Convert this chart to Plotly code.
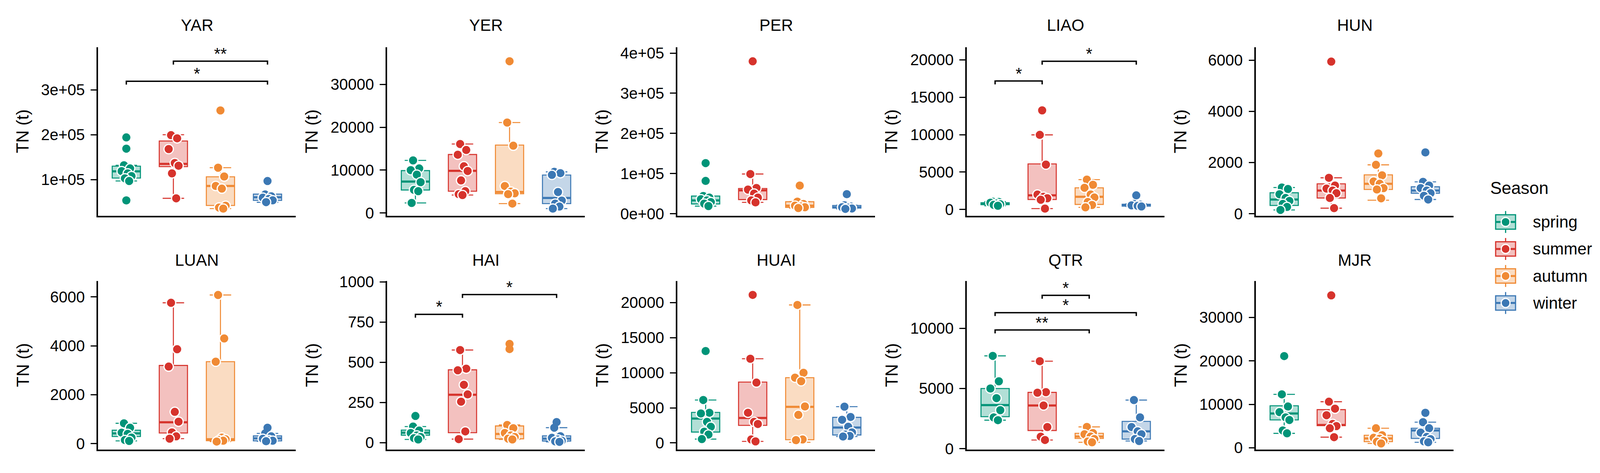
#!/usr/bin/env python
# -*- coding: utf-8 -*-

"""
Seasonal TN (t) boxplots for ten river basins, 2 x 5 panel layout.
Boxes, whiskers, points and significance brackets are read off the reference figure.
"""

import plotly.graph_objects as go

# reference canvas, positions below are given in its pixels and turned into paper fractions
W, H = 4339, 1212
FONT = "Liberation Sans, Arial, Helvetica, sans-serif"

SEASONS = ["spring", "summer", "autumn", "winter"]
LINE_COLORS = ["#009478", "#D6332C", "#F08A34", "#3C78B4"]
FILL_COLORS = ["rgba(0,148,120,0.3)", "rgba(214,51,44,0.3)",
               "rgba(240,138,52,0.3)", "rgba(60,120,180,0.3)"]

PANELS = ["YAR", "YER", "PER", "LIAO", "HUN", "LUAN", "HAI", "HUAI", "QTR", "MJR"]

# box stats per season: (lower whisker, q1, median, q3, upper whisker)
YAR_BOX = [(97e3, 103.6e3, 118.5e3, 130e3, 132e3), (58.5e3, 129e3, 135e3, 186e3, 200e3),
           (35.6e3, 42.6e3, 86e3, 106.4e3, 126.6e3), (49.6e3, 53.8e3, 60.8e3, 67.8e3, 68e3)]
YAR_PTS = [[132e3, 125e3, 119e3, 114e3, 108e3, 103e3, 97e3],
           [199e3, 192e3, 168e3, 137e3, 131e3, 114e3, 58.5e3],
           [126.6e3, 107e3, 86e3, 80e3, 42e3, 38e3, 35.6e3],
           [67e3, 63e3, 60e3, 57e3, 54e3, 50e3]]
YAR_OUT = [[194e3, 169e3, 53.8e3], [], [254e3], [97e3]]

YER_BOX = [(2350, 5370, 7340, 9900, 12270), (4200, 5080, 9830, 13650, 16100),
           (2200, 4490, 4900, 15850, 21100), (1030, 2200, 3520, 8860, 9600)]
YER_PTS = [[12270, 10400, 10000, 8950, 7200, 5400, 5100, 2350],
           [16100, 14700, 13600, 10900, 9800, 7600, 5100, 4400, 4200],
           [21100, 15700, 6300, 5000, 4600, 4400, 2200],
           [9600, 9300, 8900, 4900, 2900, 2200, 1500, 1030]]
YER_OUT = [[], [], [35400], []]

PER_BOX = [(18.8e3, 24.2e3, 33e3, 43.9e3, 44e3), (28.2e3, 35.1e3, 58e3, 62.7e3, 98.8e3),
           (14e3, 15.7e3, 20e3, 29.8e3, 30e3), (12e3, 14e3, 15.7e3, 20.4e3, 21e3)]
PER_PTS = [[44e3, 40e3, 36e3, 33e3, 29e3, 25e3, 19e3],
           [98.8e3, 64e3, 60e3, 50e3, 40e3, 33e3, 28.2e3],
           [30e3, 24e3, 20e3, 18e3, 16e3, 14e3],
           [21e3, 18e3, 16e3, 15e3, 13e3, 12e3]]
PER_OUT = [[126e3, 81.6e3], [379.6e3], [70e3], [48.6e3]]

LIAO_BOX = [(500, 650, 800, 900, 1050), (118, 1330, 1890, 6090, 9970),
            (286, 673, 1700, 2900, 3990), (400, 450, 550, 700, 750)]
LIAO_PTS = [[1050, 1000, 900, 800, 700, 620, 500],
            [9970, 6000, 2000, 1700, 1500, 1300, 118],
            [3990, 3300, 2900, 2000, 1600, 1000, 600, 286],
            [750, 650, 550, 480, 400]]
LIAO_OUT = [[], [13250], [], [1890]]

HUN_BOX = [(146, 321, 555, 818, 1022), (216, 613, 905, 1168, 1402),
           (526, 947, 1168, 1519, 1910), (555, 800, 905, 1052, 1244)]
HUN_PTS = [[1022, 964, 760, 613, 497, 380, 263, 146],
           [1402, 1100, 980, 905, 800, 613, 216],
           [1910, 1500, 1260, 1170, 1000, 947, 600],
           [1244, 1100, 1000, 905, 800, 700, 555]]
HUN_OUT = [[], [5948], [2355], [2396]]

LUAN_BOX = [(113, 293, 422, 550, 833), (205, 437, 874, 3198, 5758),
            (87, 123, 180, 3352, 6077), (100, 113, 216, 319, 420)]
LUAN_PTS = [[833, 650, 450, 400, 250, 150, 113],
            [5758, 3860, 3150, 1300, 900, 460, 300, 205],
            [6077, 4300, 3352, 250, 180, 150, 120, 87],
            [420, 300, 200, 150, 120, 100]]
LUAN_OUT = [[], [], [], [653]]

HAI_BOX = [(20, 46, 62, 78, 100), (22, 62, 298, 453, 576),
           (20, 24, 54, 104, 110), (5, 10, 25, 42, 93)]
HAI_PTS = [[100, 75, 60, 45, 35, 28, 20],
           [576, 460, 450, 360, 300, 255, 70, 22],
           [110, 90, 60, 45, 35, 25, 20],
           [93, 40, 30, 20, 12, 8, 5]]
HAI_OUT = [[166], [], [614, 582], [128]]

HUAI_BOX = [(548, 1550, 3470, 4350, 6120), (219, 2500, 3560, 8680, 12000),
            (91, 457, 5150, 9300, 19670), (913, 1130, 2190, 3650, 5170)]
HUAI_PTS = [[6120, 4300, 4200, 3000, 2300, 1600, 1200, 548],
            [12000, 8600, 4300, 3000, 2700, 500, 219],
            [19670, 10000, 9300, 8800, 5200, 4000, 500, 400],
            [5170, 3700, 3300, 2300, 1500, 1200, 1000, 913]]
HUAI_OUT = [[13100], [21100], [], []]

QTR_BOX = [(2370, 2660, 3620, 5000, 7710), (723, 1510, 3590, 4680, 7270),
           (532, 851, 1010, 1280, 1810), (638, 798, 1440, 2270, 4040)]
QTR_PTS = [[7710, 5600, 5000, 4200, 3200, 2600, 2370],
           [7270, 4700, 4650, 3590, 1800, 1000, 723],
           [1810, 1300, 1200, 1010, 800, 600, 532],
           [4040, 2600, 1800, 1440, 1200, 800, 638]]
QTR_OUT = [[], [], [], []]

MJR_BOX = [(3330, 6420, 7900, 9670, 12300), (2450, 5100, 5250, 8780, 10600),
           (1000, 1410, 2150, 2890, 4500), (1270, 2150, 4000, 4500, 5900)]
MJR_PTS = [[12300, 9500, 8200, 7000, 6400, 4000, 3330],
           [10600, 9000, 7500, 5500, 5000, 4500, 2450],
           [4500, 2900, 2300, 2100, 1600, 1400, 1000],
           [5900, 4500, 3500, 2500, 2000, 1500, 1270]]
MJR_OUT = [[21100], [35070], [], [8050]]

BOXES = [YAR_BOX, YER_BOX, PER_BOX, LIAO_BOX, HUN_BOX, LUAN_BOX, HAI_BOX, HUAI_BOX, QTR_BOX, MJR_BOX]
POINTS = [YAR_PTS, YER_PTS, PER_PTS, LIAO_PTS, HUN_PTS, LUAN_PTS, HAI_PTS, HUAI_PTS, QTR_PTS, MJR_PTS]
OUTLIERS = [YAR_OUT, YER_OUT, PER_OUT, LIAO_OUT, HUN_OUT, LUAN_OUT, HAI_OUT, HUAI_OUT, QTR_OUT, MJR_OUT]

# y-axis ranges and ticks
Y_RANGES = [[19.3e3, 395e3], [-675, 38.7e3], [-5.6e3, 415e3], [-859, 21.7e3], [-88, 6515],
            [-247, 6653], [-44, 1006], [-968, 23.1e3], [-85, 13.94e3], [-442, 38.4e3]]
Y_TICKS = [[1e5, 2e5, 3e5], [0, 10000, 20000, 30000], [0, 1e5, 2e5, 3e5, 4e5],
           [0, 5000, 10000, 15000, 20000], [0, 2000, 4000, 6000], [0, 2000, 4000, 6000],
           [0, 250, 500, 750, 1000], [0, 5000, 10000, 15000, 20000], [0, 5000, 10000],
           [0, 10000, 20000, 30000]]
Y_TICKTEXT = [["1e+05", "2e+05", "3e+05"], ["0", "10000", "20000", "30000"],
              ["0e+00", "1e+05", "2e+05", "3e+05", "4e+05"],
              ["0", "5000", "10000", "15000", "20000"], ["0", "2000", "4000", "6000"],
              ["0", "2000", "4000", "6000"], ["0", "250", "500", "750", "1000"],
              ["0", "5000", "10000", "15000", "20000"], ["0", "5000", "10000"],
              ["0", "10000", "20000", "30000"]]

# significance brackets: (panel, group a, group b, label, bracket height)
BRACKETS = [
    (0, 1, 4, "*", 319e3), (0, 2, 4, "**", 363.6e3),
    (3, 1, 2, "*", 17170), (3, 2, 4, "*", 19800),
    (6, 1, 2, "*", 798), (6, 2, 4, "*", 921),
    (8, 2, 3, "*", 12740), (8, 1, 4, "*", 11300), (8, 1, 3, "**", 9860),
]

# layout in reference pixels
COL_X0 = [266, 1050, 1837, 2622, 3406]
PANEL_W = 536
ROW_TOP = [104, 723]
PANEL_H = 447
TITLE_Y = [46, 668]
JITTER = [-0.05, 0.08, -0.1, 0.03, 0.11, -0.03, 0.06, -0.08, 0.0]


def px(x):
    return x / W


def py(y):
    return 1 - y / H


def build_figure():
    fig = go.Figure()
    annotations = []
    shapes = []

    for i, name in enumerate(PANELS):
        n = i + 1
        row, col = divmod(i, 5)
        xa, ya = f"x{n}", f"y{n}"
        x0 = COL_X0[col]
        top = ROW_TOP[row]

        for k in range(4):
            lo, q1, med, q3, hi = BOXES[i][k]
            pos = k + 1
            c = LINE_COLORS[k]
            fig.add_trace(go.Box(
                x=[pos], q1=[q1], median=[med], q3=[q3], lowerfence=[lo], upperfence=[hi],
                width=0.6, whiskerwidth=0.76, fillcolor=FILL_COLORS[k],
                line=dict(color=c, width=2.6), boxpoints=False,
                xaxis=xa, yaxis=ya, showlegend=False, hoverinfo="skip",
            ))
            # thicker median line
            fig.add_trace(go.Scatter(
                x=[pos - 0.3, pos + 0.3], y=[med, med], mode="lines",
                line=dict(color=c, width=5.5), xaxis=xa, yaxis=ya,
                showlegend=False, hoverinfo="skip",
            ))
            pts = POINTS[i][k]
            fig.add_trace(go.Scatter(
                x=[pos + JITTER[j % len(JITTER)] for j in range(len(pts))], y=pts,
                mode="markers",
                marker=dict(size=24, color=c, line=dict(color="white", width=3)),
                xaxis=xa, yaxis=ya, showlegend=False, hoverinfo="skip",
            ))
            outs = OUTLIERS[i][k]
            if outs:
                fig.add_trace(go.Scatter(
                    x=[pos] * len(outs), y=outs, mode="markers",
                    marker=dict(size=21, color=c, line=dict(width=0)),
                    xaxis=xa, yaxis=ya, showlegend=False, hoverinfo="skip",
                ))

        span = Y_RANGES[i][1] - Y_RANGES[i][0]
        for (p, a, b, label, yb) in BRACKETS:
            if p != i:
                continue
            tip = 0.02 * span
            fig.add_trace(go.Scatter(
                x=[a, a, b, b], y=[yb - tip, yb, yb, yb - tip], mode="lines",
                line=dict(color="black", width=3.5), xaxis=xa, yaxis=ya,
                showlegend=False, hoverinfo="skip",
            ))
            annotations.append(dict(
                x=(a + b) / 2, y=yb, xref=xa, yref=ya, text=label, showarrow=False,
                yanchor="bottom", yshift=-6, font=dict(size=42, color="black", family=FONT),
            ))

        fig.update_layout(**{
            f"xaxis{n}": dict(
                domain=[px(x0), px(x0 + PANEL_W)], anchor=ya, range=[0.4, 4.6],
                showline=True, linecolor="black", linewidth=3.5, showticklabels=False,
                ticks="", showgrid=False, zeroline=False, fixedrange=True,
            ),
            f"yaxis{n}": dict(
                domain=[py(top + PANEL_H), py(top)], anchor=xa, range=Y_RANGES[i],
                tickmode="array", tickvals=Y_TICKS[i], ticktext=Y_TICKTEXT[i],
                ticks="outside", ticklen=15, tickwidth=3, tickcolor="black",
                showline=True, linecolor="black", linewidth=3.5, showgrid=False,
                zeroline=False, fixedrange=True, ticklabelstandoff=7,
                tickfont=dict(size=40, color="black", family=FONT),
            ),
        })

        # panel title
        annotations.append(dict(
            x=px(x0 + PANEL_W / 2), y=py(TITLE_Y[row]), xref="paper", yref="paper",
            text=name, showarrow=False, xanchor="center", yanchor="middle",
            font=dict(size=42, color="black", family=FONT),
        ))
        # y axis title
        annotations.append(dict(
            x=px(x0 - 205), y=py(top + PANEL_H / 2), xref="paper", yref="paper",
            text="TN (t)", textangle=-90, showarrow=False, xanchor="center", yanchor="middle",
            font=dict(size=44, color="black", family=FONT),
        ))

    # legend drawn by hand so the keys match the box + point glyphs
    annotations.append(dict(
        x=px(4039), y=py(477), xref="paper", yref="paper", text="Season", showarrow=False,
        xanchor="left", yanchor="middle", font=dict(size=44, color="black", family=FONT),
    ))
    key_x = 4083
    for k, season in enumerate(SEASONS):
        yc = 567 + k * 71.5
        c = LINE_COLORS[k]
        shapes.append(dict(type="line", xref="paper", yref="paper", x0=px(key_x), x1=px(key_x),
                           y0=py(yc - 29), y1=py(yc + 29), line=dict(color=c, width=3)))
        shapes.append(dict(type="rect", xref="paper", yref="paper",
                           x0=px(key_x - 27), x1=px(key_x + 27), y0=py(yc + 19), y1=py(yc - 19),
                           fillcolor="white", line=dict(width=0)))
        shapes.append(dict(type="rect", xref="paper", yref="paper",
                           x0=px(key_x - 27), x1=px(key_x + 27), y0=py(yc + 19), y1=py(yc - 19),
                           fillcolor=FILL_COLORS[k], line=dict(color=c, width=3)))
        shapes.append(dict(type="line", xref="paper", yref="paper",
                           x0=px(key_x - 27), x1=px(key_x + 27), y0=py(yc), y1=py(yc),
                           line=dict(color=c, width=5)))
        shapes.append(dict(type="circle", xref="paper", yref="paper",
                           x0=px(key_x - 12), x1=px(key_x + 12), y0=py(yc + 12), y1=py(yc - 12),
                           fillcolor=c, line=dict(color="white", width=3)))
        annotations.append(dict(
            x=px(4155), y=py(yc), xref="paper", yref="paper", text=season, showarrow=False,
            xanchor="left", yanchor="middle", font=dict(size=42, color="black", family=FONT),
        ))

    fig.update_layout(
        autosize=True,
        margin=dict(l=0, r=0, t=0, b=0, pad=0),
        paper_bgcolor="white", plot_bgcolor="white",
        font=dict(family=FONT, color="black"),
        showlegend=False,
        annotations=annotations,
        shapes=shapes,
    )
    return fig


# make the graph div fill the browser window exactly, without the default body margin
FILL_WINDOW_JS = (
    "document.documentElement.style.margin='0';"
    "document.body.style.margin='0';"
    "document.body.style.overflow='hidden';"
    "var gd=document.getElementById('{plot_id}');"
    "gd.style.width='100vw';gd.style.height='100vh';"
    "Plotly.Plots.resize(gd);"
)


def main():
    fig = build_figure()
    fig.write_html("out.html", post_script=FILL_WINDOW_JS,
                   config={"displayModeBar": False, "responsive": True})


if __name__ == "__main__":
    main()
